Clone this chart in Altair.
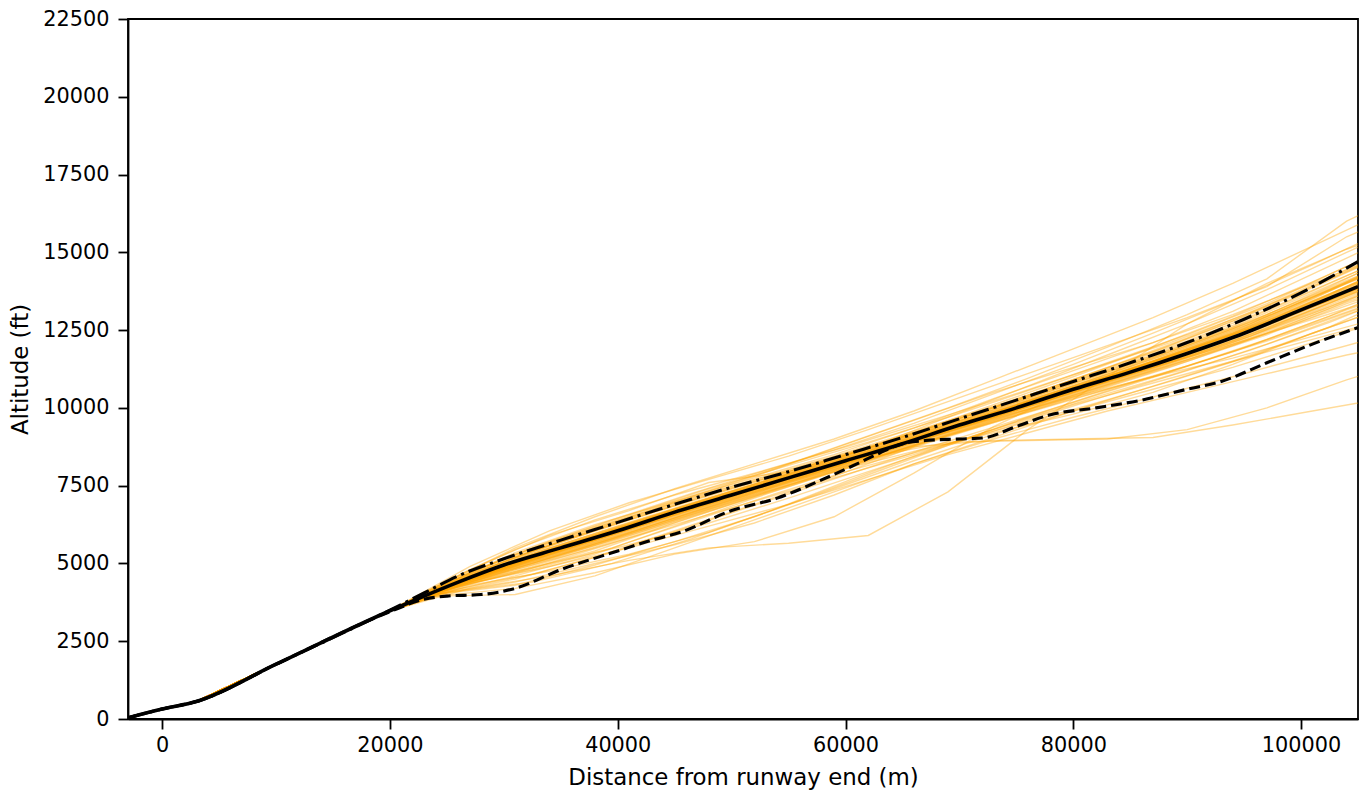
import altair as alt
import pandas as pd

# ---------------- data ----------------
PREFIX_X = [-3000, 0, 3000, 20000]
PREFIX_ALT = [40, 320, 560, 3480]

GRID_A = [24000, 31000, 38000, 45000, 52000, 59000, 66000, 73000, 80000, 87000, 94000, 101000, 108000]
GRID_B = [27000, 34000, 41000, 48000, 55000, 62000, 69000, 76000, 83000, 90000, 97000, 104000, 108000]
GRID_C = [25500, 32500, 39500, 46500, 53500, 60500, 67500, 74500, 81500, 88500, 95500, 102500, 108000]

TRAJ_A = [
    [4120, 5100, 5900, 6700, 7480, 8250, 9020, 9850, 10650, 11450, 12350, 13400, 14500],
    [4080, 5000, 5780, 6600, 7350, 8120, 8900, 9700, 10500, 11300, 12150, 13150, 14150],
    [4150, 5200, 6050, 6850, 7600, 8400, 9200, 10000, 10850, 11700, 12650, 13750, 14900],
    [4050, 4900, 5650, 6450, 7250, 8050, 8850, 9650, 10450, 11250, 12100, 13050, 14000],
    [4100, 5050, 5850, 6700, 7500, 8300, 9100, 9950, 10800, 11650, 12600, 13700, 14800],
    [4000, 4600, 5300, 6200, 7100, 7950, 8800, 9600, 10400, 11200, 12000, 12900, 13800],
    [4200, 5350, 6250, 7000, 7750, 8500, 9350, 10300, 11200, 12100, 13100, 14300, 15500],
    [4050, 4700, 5400, 6300, 7150, 8000, 8800, 9550, 10300, 11000, 11800, 12700, 13600],
    [4100, 5000, 5750, 6550, 7300, 8100, 8950, 9800, 10650, 11500, 12400, 13450, 14500],
    [4000, 4300, 4950, 5700, 6500, 7400, 8300, 9150, 9900, 10600, 11300, 12100, 12900],
    [4150, 5150, 5950, 6750, 7550, 8350, 9150, 9900, 10700, 11500, 12400, 13500, 14700],
    [4100, 5050, 5800, 6600, 7400, 8200, 9000, 9850, 10700, 11600, 12550, 13600, 14650],
    [4050, 4850, 5600, 6400, 7200, 7950, 8600, 9200, 9800, 10500, 11400, 12400, 13300],
    [4250, 5450, 6400, 7200, 7900, 8650, 9500, 10450, 11400, 12400, 13450, 14600, 15800],
    [4100, 5000, 5800, 6650, 7450, 8200, 8950, 9700, 10500, 11350, 12250, 13250, 14250],
    [3950, 4200, 4700, 5300, 5700, 6500, 7900, 9400, 10600, 11500, 12350, 13250, 14150],
    [4000, 4500, 5200, 6050, 6900, 7800, 8750, 8950, 9000, 9050, 9450, 9900, 10350],
    [4080, 4950, 5700, 6500, 7300, 8100, 8900, 9650, 10350, 11000, 11600, 12300, 13000],
    [4120, 5100, 5900, 6750, 7550, 8350, 9200, 10100, 11000, 11950, 12950, 14050, 15200],
    [4100, 5000, 5750, 6600, 7400, 8150, 8950, 9750, 10550, 11300, 12050, 12850, 13650],
    [4050, 4800, 5500, 6250, 7000, 7750, 8500, 9300, 10100, 10800, 11500, 12200, 12900],
    [4200, 5300, 6150, 6950, 7700, 8450, 9250, 10050, 10900, 11800, 12800, 13900, 15000],
    [4100, 5050, 5850, 6650, 7400, 8150, 8950, 9800, 10650, 11500, 12450, 13550, 14650],
    [4000, 4400, 5000, 5600, 6300, 7200, 8200, 9000, 9700, 10350, 11000, 11700, 12400],
    [4150, 5200, 6100, 6950, 7800, 8700, 9600, 10500, 11300, 12100, 13000, 14000, 15000],
    [4250, 5500, 6500, 7400, 8200, 9000, 9900, 10900, 11900, 12900, 14000, 15200, 16400],
    [3950, 4000, 4600, 5500, 6400, 7300, 8200, 9050, 9900, 10700, 11500, 12400, 13300],
]

TRAJ_B = [
    [4600, 5450, 6250, 7050, 7800, 8600, 9400, 10200, 11000, 11850, 12800, 13900, 14450],
    [4500, 5300, 6100, 6900, 7700, 8450, 9250, 10050, 10850, 11650, 12550, 13600, 14150],
    [4700, 5700, 6550, 7400, 8150, 8900, 9700, 10550, 11450, 12350, 13350, 14550, 15150],
    [4450, 5200, 5950, 6750, 7550, 8350, 9150, 9950, 10750, 11550, 12400, 13400, 13900],
    [4550, 5400, 6200, 7000, 7750, 8500, 9300, 10100, 10900, 11700, 12650, 13700, 14250],
    [4300, 4750, 5300, 6000, 6900, 7850, 8800, 9700, 10550, 11350, 12200, 13150, 13650],
    [4800, 5900, 6700, 7600, 7950, 8700, 9700, 10700, 11700, 12700, 13800, 15000, 15650],
    [4550, 5350, 6150, 6950, 7700, 8450, 9250, 10050, 10850, 11700, 12650, 13700, 14250],
    [4400, 5000, 5600, 6300, 7100, 7950, 8800, 9600, 10400, 11200, 12050, 13000, 13500],
    [4650, 5550, 6400, 7200, 7950, 8700, 9500, 10350, 11250, 12150, 13150, 14250, 14850],
    [4500, 5350, 6150, 6950, 7750, 8550, 9350, 10150, 10950, 11800, 12750, 13850, 14400],
    [4200, 4600, 5100, 5500, 5650, 5900, 7300, 9300, 11000, 12700, 14000, 15100, 15600],
    [4450, 5250, 6000, 6800, 7600, 8350, 9100, 9850, 10600, 11350, 12150, 13050, 13550],
    [4600, 5500, 6300, 7100, 7900, 8700, 9550, 10400, 11300, 12250, 13300, 14450, 15050],
    [4350, 4900, 5500, 6200, 6900, 7700, 8500, 9200, 9900, 10500, 11100, 11700, 12000],
    [4500, 5300, 6100, 6900, 7650, 8400, 8900, 8950, 9000, 9300, 10000, 10900, 11350],
    [4600, 5450, 6250, 7050, 7850, 8650, 9450, 10300, 11150, 12000, 12950, 14000, 14550],
    [4900, 6050, 6950, 7700, 8450, 9300, 10200, 11100, 12000, 12900, 13900, 15500, 16100],
    [4700, 5650, 6500, 7350, 8200, 9100, 10000, 10950, 11950, 13000, 14150, 16000, 16700],
    [4550, 5400, 6200, 7000, 7800, 8600, 9400, 10200, 11000, 11850, 12750, 13800, 14350],
    [4400, 5150, 5900, 6700, 7500, 8300, 9100, 9900, 10700, 11500, 12350, 13350, 13850],
    [4650, 5600, 6450, 7250, 8000, 8750, 9550, 10350, 11200, 12050, 13000, 14100, 14650],
]

TRAJ_C = [
    [4300, 5100, 5900, 6750, 7550, 8300, 9100, 9900, 10700, 11500, 12400, 13450, 14350],
    [4350, 5200, 6050, 6850, 7600, 8400, 9200, 10000, 10800, 11650, 12550, 13600, 14500],
    [4250, 5000, 5800, 6650, 7450, 8250, 9050, 9850, 10650, 11450, 12300, 13300, 14150],
    [4400, 5250, 6100, 6900, 7650, 8450, 9250, 10050, 10900, 11750, 12700, 13800, 14750],
    [4300, 5100, 5950, 6800, 7600, 8350, 9150, 9950, 10750, 11600, 12500, 13550, 14450],
    [4200, 4900, 5700, 6550, 7350, 8150, 8950, 9750, 10550, 11350, 12250, 13250, 14100],
    [4350, 5150, 6000, 6850, 7650, 8400, 9200, 10000, 10850, 11700, 12650, 13750, 14650],
    [4300, 5050, 5850, 6700, 7500, 8300, 9100, 9900, 10700, 11550, 12450, 13500, 14400],
    [4250, 4950, 5750, 6600, 7400, 8200, 9000, 9800, 10600, 11400, 12300, 13350, 14250],
    [4400, 5300, 6150, 6950, 7700, 8500, 9300, 10100, 10950, 11800, 12750, 13900, 14850],
    [4300, 5100, 5900, 6750, 7550, 8350, 9150, 9950, 10800, 11650, 12600, 13650, 14550],
    [4200, 4850, 5650, 6500, 7300, 8100, 8900, 9700, 10500, 11300, 12200, 13200, 14050],
    [4350, 5200, 6050, 6900, 7700, 8450, 9250, 10050, 10900, 11750, 12700, 13800, 14700],
    [4300, 5150, 5950, 6800, 7600, 8400, 9200, 10000, 10800, 11650, 12550, 13650, 14600],
    [4500, 5500, 6400, 7250, 8050, 8800, 9600, 10400, 11250, 12100, 13050, 14150, 15050],
    [4150, 4650, 5350, 6200, 7050, 7900, 8750, 9550, 10350, 11150, 12000, 12950, 13800],
    [4100, 4400, 5000, 5800, 6700, 7700, 8650, 9500, 10300, 11050, 11850, 12750, 13550],
    [4450, 5400, 6250, 7050, 7800, 8550, 9350, 10200, 11100, 12000, 13000, 14100, 15000],
    [4300, 5000, 5800, 6650, 7450, 8250, 9050, 9850, 10650, 11450, 12350, 13400, 14300],
    [4250, 4800, 5500, 6350, 7200, 8000, 8700, 9400, 10100, 10850, 11650, 12600, 13500],
]

MEDIAN_X = [-3000, 0, 3000, 10000, 20000, 23000, 26000, 30000, 35000, 40000, 45000, 50000, 55000,
            60000, 65000, 70000, 75000, 80000, 85000, 90000, 95000, 100000, 105000]
MEDIAN_ALT = [40, 320, 560, 1760, 3480, 3950, 4400, 4950, 5500, 6050, 6650, 7200, 7750,
              8300, 8850, 9450, 10000, 10600, 11150, 11750, 12400, 13150, 13900]

UPPER_X = [-3000, 0, 3000, 10000, 20000, 23000, 26000, 30000, 35000, 40000, 45000, 50000, 55000,
           60000, 65000, 70000, 75000, 80000, 85000, 90000, 95000, 100000, 105000]
UPPER_ALT = [40, 320, 560, 1760, 3500, 4050, 4600, 5150, 5750, 6320, 6900, 7450, 7950,
             8500, 9050, 9650, 10250, 10850, 11450, 12100, 12850, 13700, 14700]

LOWER_X = [-3000, 0, 3000, 10000, 20000, 23000, 25000, 28000, 31000, 35000, 40000, 43000, 45500,
           50000, 54000, 58000, 61000, 63000, 65000, 67000, 70000, 72000, 75000, 78000,
           82000, 86000, 90000, 93000, 97000, 101000, 105000]
LOWER_ALT = [40, 320, 560, 1760, 3450, 3850, 3950, 4000, 4200, 4800, 5400, 5750, 6000,
             6700, 7100, 7700, 8200, 8550, 8850, 8950, 9000, 9030, 9400, 9780,
             10000, 10250, 10600, 10850, 11450, 12050, 12580]

# ---------------- tables ----------------
rows = []
tid = 0
for grid, trajs in ((GRID_A, TRAJ_A), (GRID_B, TRAJ_B), (GRID_C, TRAJ_C)):
    for tr in trajs:
        xs = PREFIX_X + grid
        ys = PREFIX_ALT + tr
        for i, (xv, yv) in enumerate(zip(xs, ys)):
            rows.append({"id": tid, "x": xv, "alt": yv, "o": i})
        tid += 1
traj_df = pd.DataFrame(rows)


def stat_df(xs, ys):
    return pd.DataFrame({"x": xs, "alt": ys, "o": list(range(len(xs)))})


median_df = stat_df(MEDIAN_X, MEDIAN_ALT)
upper_df = stat_df(UPPER_X, UPPER_ALT)
lower_df = stat_df(LOWER_X, LOWER_ALT)

# ---------------- chart ----------------
X_TICKS = [0, 20000, 40000, 60000, 80000, 100000]
Y_TICKS = [0, 2500, 5000, 7500, 10000, 12500, 15000, 17500, 20000, 22500]

xenc = alt.X("x:Q", scale=alt.Scale(domain=[-3000, 105000], nice=False, zero=False),
             axis=alt.Axis(values=X_TICKS, format="d", title="Distance from runway end (m)"))
yenc = alt.Y("alt:Q", scale=alt.Scale(domain=[0, 22500], nice=False),
             axis=alt.Axis(values=Y_TICKS, format="d", title="Altitude (ft)"))

traj = alt.Chart(traj_df).mark_line(
    clip=True, color="#FFA500", strokeWidth=1.4, opacity=0.4
).encode(x=xenc, y=yenc, detail="id:N", order="o:Q")

lower = alt.Chart(lower_df).mark_line(
    clip=True, color="black", strokeWidth=3.1, strokeDash=[11, 5], interpolate="monotone"
).encode(x=xenc, y=yenc, order="o:Q")

upper = alt.Chart(upper_df).mark_line(
    clip=True, color="black", strokeWidth=3.1, strokeDash=[18, 5, 3, 5], interpolate="monotone"
).encode(x=xenc, y=yenc, order="o:Q")

median = alt.Chart(median_df).mark_line(
    clip=True, color="black", strokeWidth=3.6, interpolate="monotone"
).encode(x=xenc, y=yenc, order="o:Q")

chart = alt.layer(traj, lower, upper, median).properties(
    width=1230, height=700,
    autosize=alt.AutoSizeParams(type="none"),
    padding={"left": 120, "top": 11, "right": 1, "bottom": 74},
).configure_view(
    stroke="black", strokeWidth=1.8
).configure_axis(
    grid=False,
    domainColor="black", domainWidth=1.8,
    tickColor="black", tickWidth=1.8, tickSize=10,
    labelFont="DejaVu Sans", labelFontSize=20.8, labelColor="black",
    titleFont="DejaVu Sans", titleFontSize=22.9, titleColor="black",
    titleFontWeight="normal",
).configure_axisX(
    labelPadding=6, titlePadding=12
).configure_axisY(
    labelPadding=9, titlePadding=10
)

chart.save("out.html", embed_options={"renderer": "svg", "actions": False})
